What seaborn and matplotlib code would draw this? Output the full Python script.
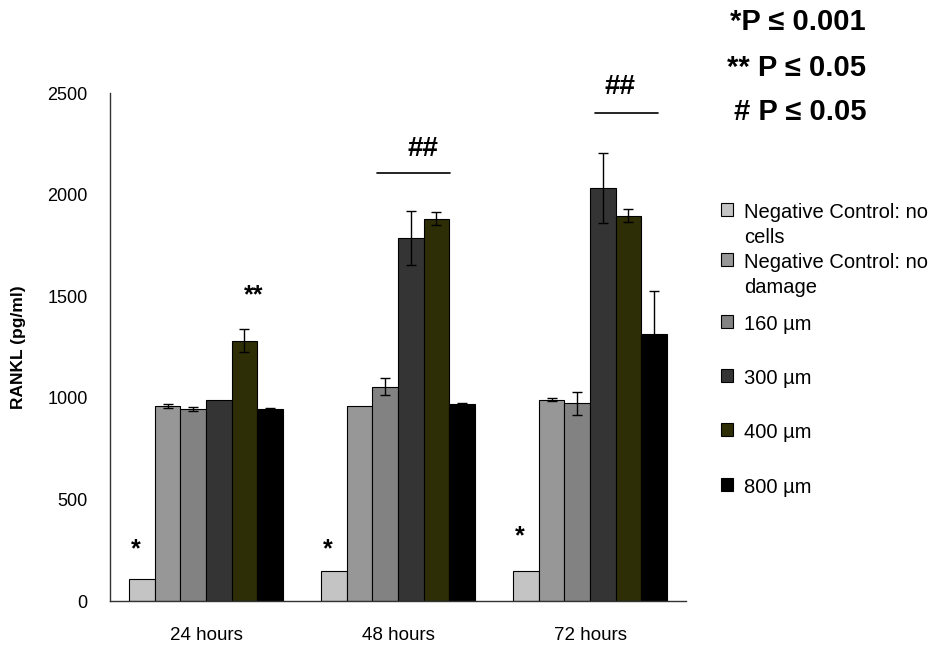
import matplotlib
matplotlib.use("Agg")
import matplotlib.pyplot as plt
from matplotlib.offsetbox import HPacker
import seaborn as sns
import pandas as pd

# ---------------- data ----------------
times = ["24 hours", "48 hours", "72 hours"]
conditions = ["Negative Control: no\ncells", "Negative Control: no\ndamage",
              "160 µm", "300 µm", "400 µm", "800 µm"]
colors = ["#c4c4c4", "#979797", "#828282", "#343434", "#333300", "#000000"]

no_cells = [110, 148, 148]
no_damage = [959, 959, 991]
um160 = [945, 1054, 973]
um300 = [991, 1788, 2031]
um400 = [1281, 1882, 1896]
um800 = [945, 970, 1316]

err_no_cells = [0, 0, 0]
err_no_damage = [10, 0, 6]
err_160 = [12, 42, 56]
err_300 = [0, 133, 173]
err_400 = [58, 30, 33]
err_800 = [5, 6, 211]

yticks = [0, 500, 1000, 1500, 2000, 2500]
p_notes = ["*P ≤ 0.001", "** P ≤ 0.05", "# P ≤ 0.05"]

values = [no_cells, no_damage, um160, um300, um400, um800]
errors = [err_no_cells, err_no_damage, err_160, err_300, err_400, err_800]

rows = []
for c, vals, errs in zip(conditions, values, errors):
    for t, v, e in zip(times, vals, errs):
        rows.append({"time": t, "condition": c, "value": v, "err": e})
df = pd.DataFrame(rows)

# ---------------- plot ----------------
sns.set_style("white")
plt.rcParams["font.family"] = ["Liberation Sans", "DejaVu Sans"]
plt.rcParams["text.color"] = "black"
plt.rcParams["axes.labelcolor"] = "black"
plt.rcParams["xtick.color"] = "black"
plt.rcParams["ytick.color"] = "black"

fig = plt.figure(figsize=(9.44, 6.48), dpi=100)
ax = fig.add_axes([110 / 944, 47 / 648, 576 / 944, 508 / 648])

sns.barplot(data=df, x="time", y="value", hue="condition", order=times,
            hue_order=conditions, palette=colors, edgecolor="black",
            linewidth=0.8, width=0.8, errorbar=None, legend=False, ax=ax)
bar_conts = list(ax.containers)

for cont, errs in zip(bar_conts, errors):
    for bar, e in zip(cont.patches, errs):
        if e > 0:
            ax.errorbar(bar.get_x() + bar.get_width() / 2, bar.get_height(),
                        yerr=e, fmt="none", ecolor="black", elinewidth=1,
                        capsize=3.5, capthick=1)

ax.set_ylim(0, 2500)
ax.set_xlim(-0.5, 2.5)
ax.set_yticks(yticks)
ax.set_yticklabels([str(v) for v in yticks], fontsize=13)
ax.set_xticks([0, 1, 2])
ax.set_xticklabels(times, fontsize=13.5)
ax.set_xticks([-0.5, 0.5, 1.5, 2.5], minor=True)
ax.tick_params(axis="x", which="major", length=0, pad=19)
ax.tick_params(axis="x", which="minor", length=6, width=1, color="#333333",
               direction="out")
ax.tick_params(axis="y", length=6, width=1, color="#333333", direction="out",
               pad=10)
ax.set_xlabel("")
ax.set_ylabel("RANKL (pg/ml)", fontsize=12.5, fontweight="bold")
ax.yaxis.set_label_coords(-0.145, 0.5)
sns.despine(ax=ax)
for s in ["left", "bottom"]:
    ax.spines[s].set_color("#333333")
    ax.spines[s].set_linewidth(1)

# significance markers
for i, bar in enumerate(bar_conts[0].patches):
    yy = [255, 255, 320][i]
    ax.text(bar.get_x() + bar.get_width() / 2 - 0.03, yy, "*", ha="center",
            va="center", fontsize=18, fontweight="bold")
b400 = bar_conts[4].patches[0]
ax.text(b400.get_x() + b400.get_width() / 2 + 0.05, 1506, "**", ha="center",
        va="center", fontsize=18, fontweight="bold")

ax.plot([0.891, 1.271], [2106, 2106], color="black", lw=1.2)
ax.text(1.13, 2225, "##", ha="center", va="center", fontsize=20,
        fontweight="bold")
ax.plot([2.026, 2.354], [2401, 2401], color="black", lw=1.2, clip_on=False)
ax.text(2.156, 2530, "##", ha="center", va="center", fontsize=20,
        fontweight="bold", clip_on=False)

# legends
handles = [c.patches[0] for c in bar_conts]


def top_align(leg):
    for hp in leg.findobj(HPacker):
        hp.align = "top"
    for t in leg.get_texts():
        t.set_linespacing(1.4)


legA = ax.legend(handles[:2], conditions[:2], loc="upper left",
                 bbox_to_anchor=(721 / 944, 1 - 203 / 648),
                 bbox_transform=fig.transFigure, frameon=False, fontsize=14.5,
                 handlelength=0.6, handleheight=0.6, handletextpad=0.55,
                 labelspacing=0.3, borderpad=0, borderaxespad=0)
top_align(legA)
ax.add_artist(legA)
legB = ax.legend(handles[2:], conditions[2:], loc="upper left",
                 bbox_to_anchor=(721 / 944, 1 - 315 / 648),
                 bbox_transform=fig.transFigure, frameon=False, fontsize=14.5,
                 handlelength=0.6, handleheight=0.6, handletextpad=0.55,
                 labelspacing=1.75, borderpad=0, borderaxespad=0)
top_align(legB)

for note, yp in zip(p_notes, [22, 68, 112]):
    fig.text(866 / 944, 1 - yp / 648, note, ha="right", va="center",
             fontsize=21, fontweight="bold")

fig.savefig("out.png", dpi=100, facecolor="white")
